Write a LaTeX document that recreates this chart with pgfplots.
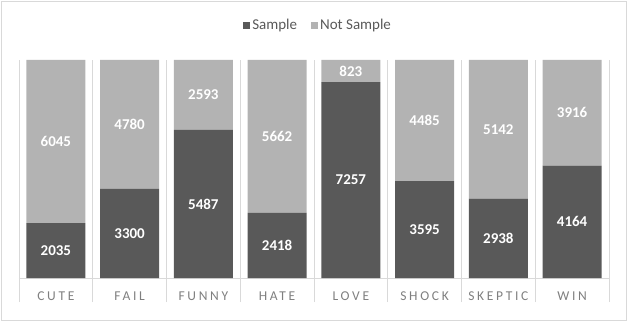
\documentclass[border=0pt]{standalone}
\usepackage{pgfplots}
\pgfplotsset{compat=1.18}
\usepackage{pgfplotstable}
\usepackage{fontspec}
\setmainfont{Carlito}
\newfontfamily\catfont[LetterSpace=20]{Carlito}
\definecolor{darkbar}{HTML}{595959}
\definecolor{lightbar}{HTML}{B3B3B3}
\definecolor{sep}{HTML}{D9D9D9}
\definecolor{labtxt}{HTML}{7F7F7F}
\definecolor{legtxt}{HTML}{595959}
\pgfplotstableread{
x s n
0 2035 6045
1 3300 4780
2 5487 2593
3 2418 5662
4 7257 823
5 3595 4485
6 2938 5142
7 4164 3916
}\data
\begin{document}
\begin{tikzpicture}
\path[use as bounding box] (-19pt,-44pt) rectangle (611pt,278pt);
\draw[sep, line width=0.8pt] (-18pt,-42.5pt) rectangle (607pt,277pt);
\begin{axis}[
  at={(0,0)}, anchor=south west,
  scale only axis, width=590pt, height=218pt,
  ybar stacked, bar width=59pt,
  xmin=-0.5, xmax=7.5, ymin=0, ymax=8080,
  axis y line=none, axis x line*=bottom,
  x axis line style={sep, line width=0.8pt},
  xtick={0,...,7},
  xticklabels={CUTE,FAIL,FUNNY,HATE,LOVE,SHOCK,SKEPTIC,WIN},
  major tick length=0pt,
  minor xtick={-0.5,0.5,...,7.5},
  minor tick length=24pt,
  tick align=outside,
  minor x tick style={sep, line width=0.8pt},
  xminorgrids,
  minor x grid style={sep, line width=0.8pt},
  xticklabel style={font=\catfont\fontsize{13.5}{16}\selectfont, text=labtxt, anchor=base, yshift=-22pt},
  point meta=explicit symbolic,
  nodes near coords,
  every node near coord/.append style={font=\bfseries\fontsize{15}{18}\selectfont, text=white, anchor=center},
  legend style={at={(0.507,1.16)}, anchor=center, draw=none, fill=none, legend columns=2,
    font=\fontsize{15}{18}\selectfont, text=legtxt,
    /tikz/every even column/.append style={column sep=12pt}},
  legend image code/.code={\fill[#1] (0pt,-3.5pt) rectangle (7pt,3.5pt);},
]
\addplot[fill=darkbar, draw=none] table[x=x, y=s, meta=s] \data;
\addplot[fill=lightbar, draw=none] table[x=x, y=n, meta=n] \data;
\legend{Sample, Not Sample}
\end{axis}
\end{tikzpicture}
\end{document}
